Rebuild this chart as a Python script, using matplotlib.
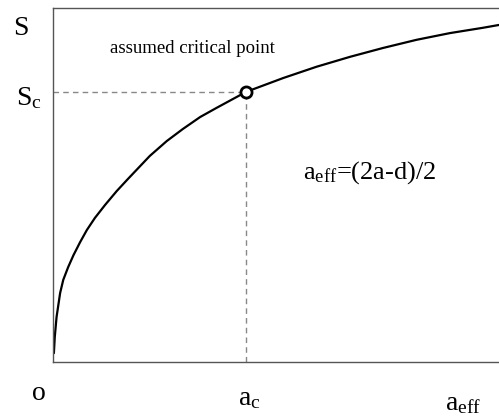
import matplotlib
matplotlib.use("Agg")
import matplotlib.pyplot as plt

plt.rcParams['font.family'] = ['Liberation Serif', 'DejaVu Serif']
plt.rcParams['mathtext.default'] = 'regular'

# curve S(a_eff), normalised axis units
a_eff = [0.002, 0.004, 0.008, 0.016, 0.023, 0.034, 0.046, 0.061, 0.076,
         0.094, 0.117, 0.143, 0.168, 0.217, 0.255, 0.291, 0.330, 0.367,
         0.433, 0.516, 0.591, 0.666, 0.740, 0.815, 0.890, 0.964, 1.0]
S = [0.025, 0.071, 0.127, 0.195, 0.232, 0.268, 0.302, 0.339, 0.373,
     0.407, 0.444, 0.483, 0.517, 0.582, 0.624, 0.658, 0.692, 0.718,
     0.763, 0.802, 0.834, 0.862, 0.887, 0.910, 0.929, 0.944, 0.952]

# assumed critical point
a_c = 0.433
S_c = 0.763

fig = plt.figure(figsize=(4.99, 4.19), dpi=100)
ax = fig.add_axes([0.1062, 0.136, 0.8938, 0.845])
ax.set_xlim(0, 1)
ax.set_ylim(0, 1)
ax.set_xticks([])
ax.set_yticks([])
ax.spines['right'].set_visible(False)
for side in ['left', 'top', 'bottom']:
    ax.spines[side].set_color('#555555')
    ax.spines[side].set_linewidth(1.0)

ax.plot([0, a_c], [S_c, S_c], ls=(0, (4, 3)), color='#888888', lw=1.0)
ax.plot([a_c, a_c], [0, S_c], ls=(0, (4, 3)), color='#888888', lw=1.0)
ax.plot(a_eff, S, color='black', lw=1.6, solid_capstyle='round',
        solid_joinstyle='round')
ax.plot([a_c], [S_c], 'o', mfc='white', mec='black', ms=8, mew=2)

fs = 20
ax.text(-0.09, 0.924, 'S', fontsize=fs, ha='left', va='baseline', clip_on=False)
ax.text(-0.082, 0.726, '$S_c$', fontsize=fs, ha='left', va='baseline', clip_on=False)
ax.text(-0.047, -0.107, 'o', fontsize=fs, ha='left', va='baseline', clip_on=False)
ax.text(0.415, -0.121, '$a_c$', fontsize=fs, ha='left', va='baseline', clip_on=False)
ax.text(0.879, -0.136, '$a_{eff}$', fontsize=fs, ha='left', va='baseline', clip_on=False)
ax.text(0.561, 0.517, '$a_{eff}$=(2a-d)/2', fontsize=19, ha='left', va='baseline')
ax.text(0.128, 0.873, 'assumed critical point', fontsize=13.5, ha='left', va='baseline')

fig.savefig('out.png', dpi=100)
